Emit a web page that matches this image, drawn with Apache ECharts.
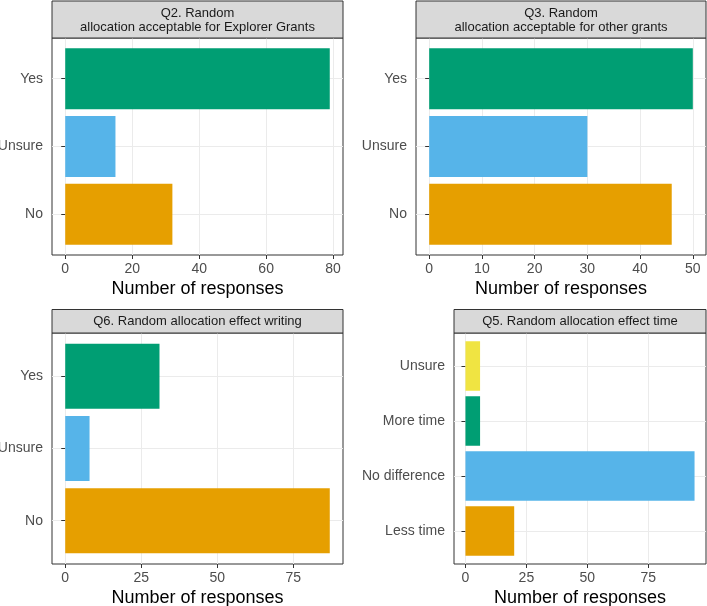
<!DOCTYPE html>
<html>
<head>
<meta charset="utf-8">
<script src="https://cdn.jsdelivr.net/npm/echarts@6/dist/echarts.min.js"></script>
<style>
html,body{margin:0;padding:0;background:#fff;}
#chart{width:707px;height:606px;}
</style>
</head>
<body>
<div id="chart"></div>
<script>
// ---- data ----
const q2Title = 'Q2. Random\nallocation acceptable for Explorer Grants';
const q2Cats = ['No', 'Unsure', 'Yes'];
const q2Vals = [32, 15, 79];
const q2Ticks = [0, 20, 40, 60, 80];

const q3Title = 'Q3. Random\nallocation acceptable for other grants';
const q3Cats = ['No', 'Unsure', 'Yes'];
const q3Vals = [46, 30, 50];
const q3Ticks = [0, 10, 20, 30, 40, 50];

const q6Title = 'Q6. Random allocation effect writing';
const q6Cats = ['No', 'Unsure', 'Yes'];
const q6Vals = [87, 8, 31];
const q6Ticks = [0, 25, 50, 75];

const q5Title = 'Q5. Random allocation effect time';
const q5Cats = ['Less time', 'No difference', 'More time', 'Unsure'];
const q5Vals = [20, 94, 6, 6];
const q5Ticks = [0, 25, 50, 75];

const xTitle = 'Number of responses';

// ---- styles / layout ----
const colorsByCat = {
  'No': '#E69F00', 'Unsure': '#56B4E9', 'Yes': '#009E73',
  'Less time': '#E69F00', 'No difference': '#56B4E9', 'More time': '#009E73'
};
const q5UnsureColor = '#F0E442';

const panels = [
  { title: q2Title, cats: q2Cats, vals: q2Vals, ticks: q2Ticks, left: 52, top: 38, w: 291, h: 217, headTop: 1 },
  { title: q3Title, cats: q3Cats, vals: q3Vals, ticks: q3Ticks, left: 416, top: 38, w: 290, h: 217, headTop: 1 },
  { title: q6Title, cats: q6Cats, vals: q6Vals, ticks: q6Ticks, left: 52, top: 333, w: 291, h: 231, headTop: 309.5 },
  { title: q5Title, cats: q5Cats, vals: q5Vals, ticks: q5Ticks, left: 454, top: 333, w: 252, h: 231, headTop: 309.5, q5: true }
];

const FONT = 'Liberation Sans, Arial, sans-serif';
const grids = [], xAxes = [], yAxes = [], series = [], graphics = [];

panels.forEach((p, i) => {
  const n = p.cats.length;
  const dmax = Math.max.apply(null, p.vals);
  const xmin = -0.05 * dmax, xmax = 1.05 * dmax;
  const span = n + 0.2;
  const unit = p.h / span;
  // outer frame grid
  grids.push({ left: p.left, top: p.top, width: p.w, height: p.h, show: true,
    borderColor: '#333', borderWidth: 1, backgroundColor: '#fff', containLabel: false,
    outerBoundsMode: 'none' });
  // inner bar grid
  grids.push({ left: p.left, top: p.top + unit * 0.1, width: p.w, height: unit * n, show: false,
    containLabel: false, outerBoundsMode: 'none' });
  const og = 2 * i, ig = 2 * i + 1;
  xAxes.push({
    type: 'value', gridIndex: og, min: xmin, max: xmax,
    axisLine: { show: false },
    axisTick: { show: true, customValues: p.ticks, length: 4, lineStyle: { color: '#333', width: 1 } },
    axisLabel: { customValues: p.ticks, color: '#4d4d4d', fontSize: 14, fontFamily: FONT, margin: 7 },
    splitLine: { show: true, lineStyle: { color: '#ebebeb', width: 1 } },
    name: xTitle, nameLocation: 'middle', nameGap: 25,
    nameTextStyle: { color: '#000', fontSize: 18, fontFamily: FONT }
  });
  xAxes.push({ type: 'value', gridIndex: ig, min: xmin, max: xmax, show: false });
  const yvals = p.cats.map((c, k) => k + 1);
  yAxes.push({
    type: 'value', gridIndex: og, min: 0.4, max: n + 0.6,
    axisLine: { show: false },
    axisTick: { show: true, customValues: yvals, length: 4, lineStyle: { color: '#333', width: 1 } },
    axisLabel: { customValues: yvals, color: '#4d4d4d', fontSize: 14, fontFamily: FONT, margin: 9,
      formatter: v => p.cats[Math.round(v) - 1] || '' },
    splitLine: { show: true, lineStyle: { color: '#ebebeb', width: 1 } }
  });
  yAxes.push({ type: 'category', gridIndex: ig, data: p.cats, show: false, boundaryGap: true });
  series.push({
    type: 'bar', xAxisIndex: 2 * i + 1, yAxisIndex: 2 * i + 1, barCategoryGap: '10%',
    silent: true, animation: false,
    data: p.vals.map((v, k) => ({ value: v, itemStyle: {
      color: (p.q5 && p.cats[k] === 'Unsure') ? q5UnsureColor : colorsByCat[p.cats[k]] } }))
  });
  // strip header
  graphics.push({ type: 'rect', shape: { x: p.left, y: p.headTop, width: p.w, height: p.top - p.headTop },
    style: { fill: '#d9d9d9', stroke: '#333', lineWidth: 1 }, z: 10 });
  graphics.push({ type: 'text', x: p.left + p.w / 2, y: (p.headTop + p.top) / 2 + 0.5,
    style: { text: p.title, fill: '#1a1a1a', fontSize: 13, fontFamily: FONT, align: 'center',
      verticalAlign: 'middle', lineHeight: 14 }, z: 11 });
});

const chart = echarts.init(document.getElementById('chart'), null, { renderer: 'canvas' });
chart.setOption({
  animation: false,
  grid: grids, xAxis: xAxes, yAxis: yAxes, series: series,
  graphic: { elements: graphics }
});
</script>
</body>
</html>
